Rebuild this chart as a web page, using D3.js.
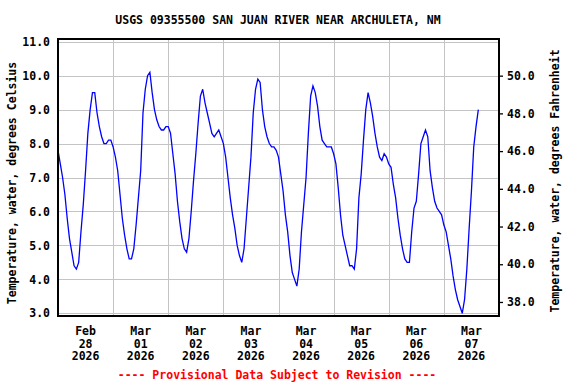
<!DOCTYPE html>
<html lang="en">
<head>
<meta charset="UTF-8">
<title>USGS 09355500 San Juan River near Archuleta, NM</title>
<script src="https://d3js.org/d3.v7.min.js"></script>
<style>
    body { margin: 0; background: #fff; }
    svg text { font-family: "DejaVu Sans Mono", monospace; font-weight: bold; font-size: 11.5px; fill: #000; }
    .grid line { stroke: #c4c4c4; stroke-width: 1px; shape-rendering: crispEdges; }
    .grid path { display: none; }
</style>
</head>
<body>
<script>
// hourly water temperature, degrees Celsius, starting at 00:00 of each day
const dayStarts = ["2026-02-28", "2026-03-01", "2026-03-02", "2026-03-03",
                   "2026-03-04", "2026-03-05", "2026-03-06", "2026-03-07"];
const feb28 = [7.8, 7.4, 7.0, 6.5, 5.8, 5.2, 4.8, 4.4, 4.3, 4.5, 5.4, 6.2,
               7.2, 8.3, 9.0, 9.5, 9.5, 8.9, 8.5, 8.2, 8.0, 8.0, 8.1, 8.1];
const mar01 = [7.9, 7.6, 7.2, 6.5, 5.8, 5.3, 4.9, 4.6, 4.6, 4.9, 5.6, 6.4,
               7.2, 8.9, 9.6, 10.0, 10.1, 9.5, 9.0, 8.7, 8.5, 8.4, 8.4, 8.5];
const mar02 = [8.5, 8.3, 7.7, 7.1, 6.3, 5.7, 5.2, 4.9, 4.8, 5.2, 6.0, 6.9,
               7.7, 8.6, 9.4, 9.6, 9.2, 8.9, 8.6, 8.3, 8.2, 8.3, 8.4, 8.2];
const mar03 = [8.0, 7.6, 7.0, 6.4, 5.9, 5.5, 5.0, 4.7, 4.5, 4.9, 5.8, 6.7,
               7.6, 8.9, 9.6, 9.9, 9.8, 9.0, 8.5, 8.2, 8.0, 7.9, 7.9, 7.8];
const mar04 = [7.6, 7.1, 6.6, 5.9, 5.4, 4.7, 4.2, 4.0, 3.8, 4.3, 5.4, 6.2,
               7.0, 8.3, 9.4, 9.7, 9.5, 9.1, 8.5, 8.1, 8.0, 7.9, 7.9, 7.9];
const mar05 = [7.7, 7.4, 6.7, 5.9, 5.3, 5.0, 4.7, 4.4, 4.4, 4.3, 4.9, 6.4,
               7.1, 8.1, 9.0, 9.5, 9.2, 8.8, 8.3, 7.9, 7.6, 7.5, 7.7, 7.6];
const mar06 = [7.4, 7.3, 6.8, 6.4, 5.8, 5.3, 4.9, 4.6, 4.5, 4.5, 5.4, 6.1,
               6.3, 7.1, 8.0, 8.2, 8.4, 8.2, 7.2, 6.7, 6.3, 6.1, 6.0, 5.9];
const mar07 = [5.6, 5.4, 5.0, 4.6, 4.1, 3.7, 3.4, 3.2, 3.0, 3.4, 4.3, 5.5,
               6.6, 7.9, 8.5, 9.0];
const dailyTemps = [feb28, mar01, mar02, mar03, mar04, mar05, mar06, mar07];

const celsiusTicks = [3, 4, 5, 6, 7, 8, 9, 10, 11];
const fahrenheitTicks = [38, 40, 42, 44, 46, 48, 50];

const title = "USGS 09355500 SAN JUAN RIVER NEAR ARCHULETA, NM";
const leftTitle = "Temperature, water, degrees Celsius";
const rightTitle = "Temperature, water, degrees Fahrenheit";
const footer = "---- Provisional Data Subject to Revision ----";

const width = 576, height = 384;
const plot = { left: 58, right: 499, top: 39, bottom: 316 };

const parseDay = d3.utcParse("%Y-%m-%d");
const points = [];
dailyTemps.forEach((vals, i) => {
    const t0 = parseDay(dayStarts[i]);
    vals.forEach((v, h) => points.push({ t: d3.utcHour.offset(t0, h), v: v }));
});

const x = d3.scaleUtc()
    .domain([parseDay(dayStarts[0]), d3.utcDay.offset(parseDay(dayStarts[7]), 1)])
    .range([plot.left, plot.right]);
const y = d3.scaleLinear().domain([2.92, 11.08]).range([plot.bottom, plot.top]);
const yF = d3.scaleLinear().domain(y.domain().map(c => c * 1.8 + 32)).range(y.range());

const svg = d3.select("body").append("svg")
    .attr("width", width)
    .attr("height", height);

// grid
svg.append("g")
    .attr("class", "grid")
    .attr("transform", `translate(${plot.left},0)`)
    .call(d3.axisLeft(y).tickValues(celsiusTicks).tickSize(-(plot.right - plot.left)).tickFormat(""));

const midnights = dayStarts.slice(1).map(parseDay);
svg.append("g")
    .attr("class", "grid")
    .attr("transform", `translate(0,${plot.bottom})`)
    .call(d3.axisBottom(x).tickValues(midnights).tickSize(-(plot.bottom - plot.top)).tickFormat(""));

// data line
const line = d3.line()
    .x(d => x(d.t))
    .y(d => y(d.v));

svg.append("path")
    .datum(points)
    .attr("fill", "none")
    .attr("stroke", "#0000ff")
    .attr("stroke-width", 1.3)
    .attr("d", line);

// frame
svg.append("rect")
    .attr("x", plot.left)
    .attr("y", plot.top)
    .attr("width", plot.right - plot.left)
    .attr("height", plot.bottom - plot.top)
    .attr("fill", "none")
    .attr("stroke", "#000")
    .attr("stroke-width", 1.6)
    .attr("shape-rendering", "crispEdges");

// left axis (labels only)
const leftAxis = svg.append("g")
    .attr("transform", `translate(${plot.left},0)`)
    .call(d3.axisLeft(y).tickValues(celsiusTicks).tickSize(0).tickPadding(8).tickFormat(d3.format(".1f")));
leftAxis.select(".domain").remove();
leftAxis.selectAll("text").attr("font-size", null).attr("font-family", null);

// right axis (Fahrenheit)
const rightAxis = svg.append("g")
    .attr("transform", `translate(${plot.right},0)`)
    .call(d3.axisRight(yF).tickValues(fahrenheitTicks).tickSize(4).tickPadding(4).tickFormat(d3.format(".1f")));
rightAxis.select(".domain").remove();
rightAxis.selectAll("line").attr("stroke", "#000").attr("stroke-width", 1.3);
rightAxis.selectAll("text").attr("font-size", null).attr("font-family", null);

// bottom labels at noon
const noons = dayStarts.map(d => d3.utcHour.offset(parseDay(d), 12));
const fmtMon = d3.utcFormat("%b"), fmtDay = d3.utcFormat("%d"), fmtYear = d3.utcFormat("%Y");
const xLabels = svg.append("g");
noons.forEach(t => {
    const txt = xLabels.append("text")
        .attr("text-anchor", "middle")
        .attr("x", x(t));
    [fmtMon(t), fmtDay(t), fmtYear(t)].forEach((s, i) => {
        txt.append("tspan").attr("x", x(t)).attr("y", 335 + i * 12.6).text(s);
    });
});

// titles
svg.append("text")
    .attr("x", 278)
    .attr("y", 24)
    .attr("text-anchor", "middle")
    .text(title);

svg.append("text")
    .attr("transform", `translate(16,183) rotate(-90)`)
    .attr("text-anchor", "middle")
    .text(leftTitle);

svg.append("text")
    .attr("transform", `translate(559,181) rotate(-90)`)
    .attr("text-anchor", "middle")
    .text(rightTitle);

svg.append("text")
    .attr("x", 277)
    .attr("y", 379)
    .attr("text-anchor", "middle")
    .style("fill", "#ff0000")
    .text(footer);
</script>
</body>
</html>
